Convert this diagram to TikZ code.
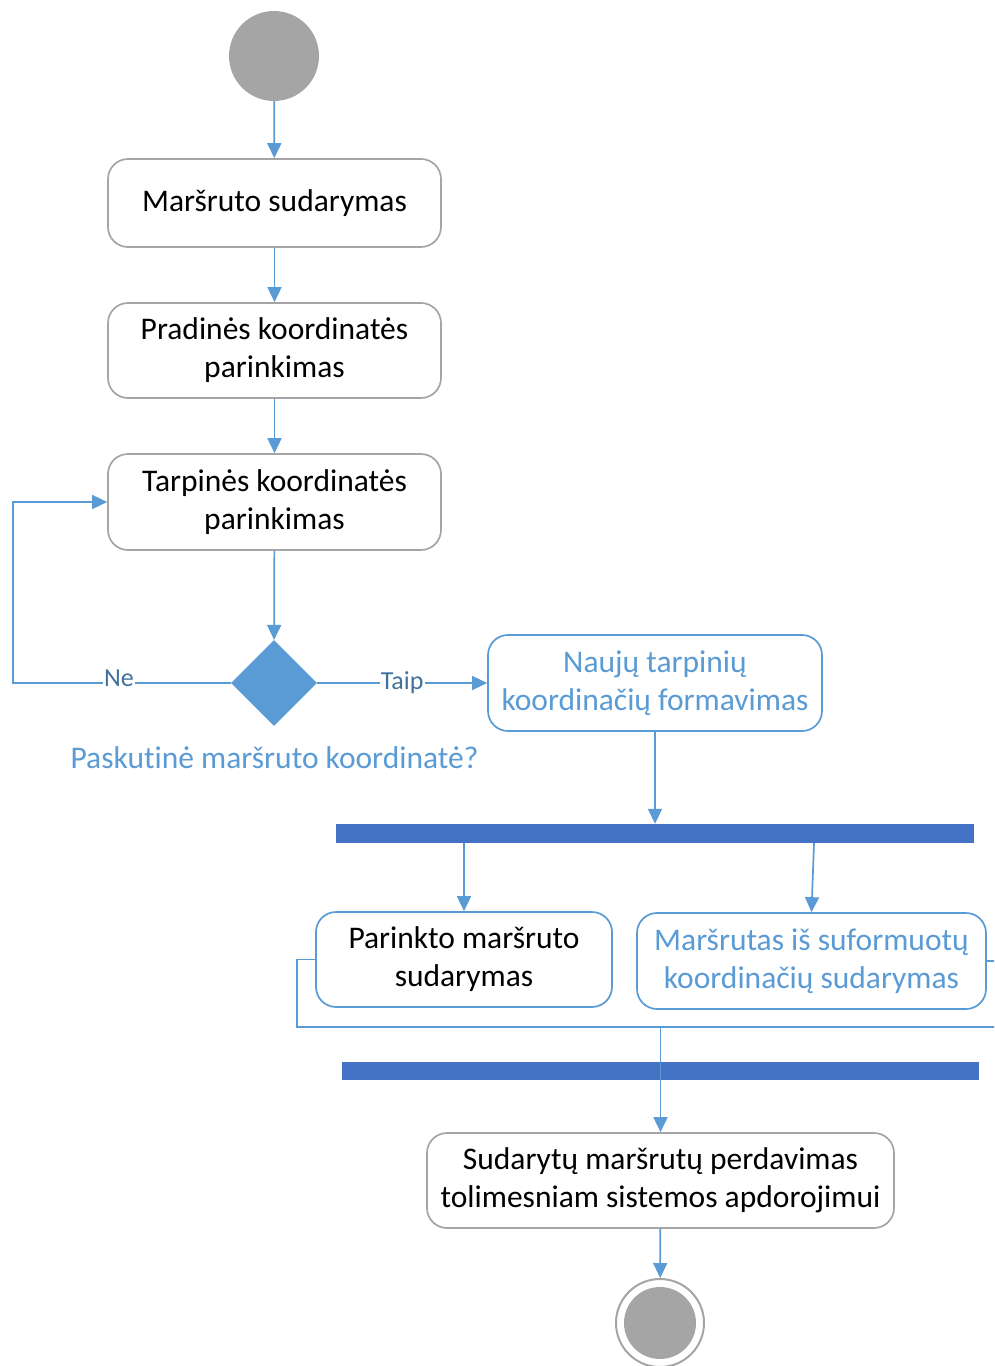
\documentclass[tikz,border=0pt]{standalone}
\usepackage{fontspec}
\setmainfont[Ligatures=NoCommon]{Carlito}
\usetikzlibrary{arrows.meta,shapes.geometric}
\definecolor{uigray}{HTML}{A5A5A5}
\definecolor{uiblue}{HTML}{5B9BD5}
\definecolor{barblue}{HTML}{4472C4}
\definecolor{lblblue}{HTML}{41719C}

\begin{document}
\begin{tikzpicture}[x=1pt,y=-1pt,
  act/.style={draw=uigray, line width=1.7pt, rounded corners=20pt, align=center,
    inner sep=0pt, font=\fontsize{31.5}{38}\selectfont, text=black},
  bact/.style={act, draw=uiblue},
  flow/.style={draw=uiblue, line width=1.7pt, -{Triangle[width=14pt,length=15pt]}},
  link/.style={draw=uiblue, line width=1.7pt},
  syncbar/.style={fill=barblue, draw=none, inner sep=0pt, rectangle},
  lbl/.style={fill=white, inner sep=1pt, text=lblblue, font=\fontsize{26}{28}\selectfont},
]
\clip (0,0) rectangle (994,1366);
\fill[white] (0,0) rectangle (994,1366);

% start / end
\node[circle, fill=uigray, minimum size=90pt, inner sep=0pt] (start) at (274,56) {};
\node[circle, draw=uigray, line width=2pt, fill=white, minimum size=88pt, inner sep=0pt] (end) at (660,1323) {};
\node[circle, fill=uigray, minimum size=72pt, inner sep=0pt] (endin) at (660,1323) {};

% activities
\node[act, minimum width=333pt, minimum height=88pt] (b1) at (274.5,203) {Maršruto sudarymas};
\node[act, minimum width=333pt, minimum height=95pt] (b2) at (274.5,350.5) {Pradinės koordinatės\\parinkimas};
\node[act, minimum width=333pt, minimum height=96pt] (b3) at (274.5,502) {Tarpinės koordinatės\\parinkimas};
\node[bact, text=uiblue, minimum width=334pt, minimum height=96pt] (b4) at (655,683) {Naujų tarpinių\\koordinačių formavimas};
\node[bact, minimum width=296pt, minimum height=95pt] (b5) at (464,959.5) {Parinkto maršruto\\sudarymas};
\node[bact, text=uiblue, minimum width=349pt, minimum height=96pt] (b6) at (811.5,961) {Maršrutas iš suformuotų\\koordinačių sudarymas};
\node[act, minimum width=467pt, minimum height=95pt] (b7) at (660.5,1180.5) {Sudarytų maršrutų perdavimas\\tolimesniam sistemos apdorojimui};

% decision
\node[diamond, fill=uiblue, minimum width=86pt, minimum height=86pt, inner sep=0pt] (dec) at (274,683) {};
\node[text=uiblue, font=\fontsize{31.5}{38}\selectfont, inner sep=0pt] (q) at (274.5,758) {Paskutinė maršruto koordinatė?};

% fork / join bars
\node[syncbar, minimum width=638pt, minimum height=19pt] (fork) at (655,833.5) {};
\node[syncbar, minimum width=637pt, minimum height=18pt] (join) at (660.5,1071) {};

% flows
\draw[flow] (start) -- (b1);
\draw[flow] (b1) -- (b2);
\draw[flow] (b2) -- (b3);
\draw[flow] (b3) -- (dec);
\draw[flow] (dec.west) -- (13,683) |- (b3.west);
\node[lbl, anchor=south] (ne) at (119,688) {Ne};
\draw[flow] (dec.east) -- node[lbl] (taip) {Taip} (b4.west);
\draw[flow] (b4) -- (fork);
\draw[flow] (fork.south -| b5.north) -- (b5.north);
\draw[flow] ([xshift=159pt]fork.south) -- (b6.north);
\draw[link] (b5.west) -- (297,959.5) -- (297,1027) -- (1010,1027) -- (1010,961) -- (b6.east);
\coordinate (merge) at (660.5,1027);
\draw[flow] (merge) -- (b7.north);
\draw[flow] (b7) -- (end);
\end{tikzpicture}
\end{document}
